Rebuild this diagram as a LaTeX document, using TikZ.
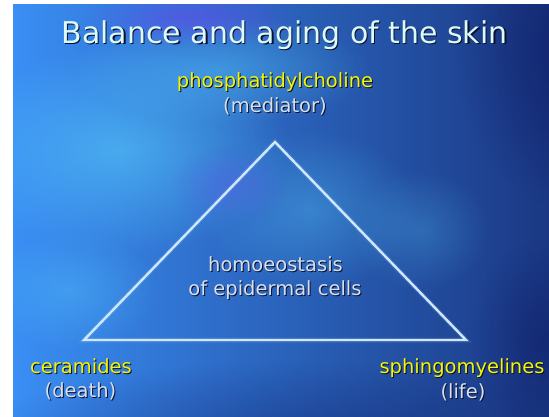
\documentclass[tikz,border=0pt]{standalone}
\usepackage{fontspec}
\setmainfont{DejaVu Sans}
\usetikzlibrary{fadings}
\tikzfading[name=softblob, inner color=transparent!0, outer color=transparent!100]
\definecolor{bgA}{HTML}{3A8EF4}
\definecolor{bgB}{HTML}{2A54DE}
\definecolor{bgC}{HTML}{122064}
\definecolor{cyanblob}{HTML}{56C8FA}
\definecolor{purpblob}{HTML}{6A48EE}
\definecolor{navyblob}{HTML}{0C1660}
\definecolor{titlec}{HTML}{DDFAFA}
\definecolor{yellowc}{HTML}{F5F500}
\definecolor{subc}{HTML}{D6E0EE}
\definecolor{linec}{HTML}{D0E8FF}
\definecolor{glowc}{HTML}{A8D4FF}
\definecolor{shadowc}{HTML}{0A1030}
\newcommand\shd[2]{\makebox[0pt][l]{\hspace{#1}\raisebox{-#1}{\textcolor{shadowc}{#2}}}#2}
\tikzset{
  blob/.style={fill=#1, path fading=softblob},
  titletext/.style={anchor=base, text=titlec, font=\fontsize{30}{36}\selectfont, inner sep=0pt},
  keytext/.style={anchor=base, text=yellowc, font=\fontsize{19.5}{24}\selectfont, inner sep=0pt},
  subtext/.style={anchor=base, text=subc, font=\fontsize{19.5}{24}\selectfont, inner sep=0pt},
  tri/.style={draw=linec, line width=2.4pt, line join=miter},
  triglow/.style={draw=glowc, line width=5pt, opacity=0.12, line join=miter}
}
\begin{document}
\begin{tikzpicture}[x=1pt,y=-1pt]
\useasboundingbox (0,0) rectangle (549,416);
\fill[white] (0,0) rectangle (549,416);
\begin{scope}
\clip (13,4) rectangle (549,416);
\shade[left color=bgA, middle color=bgB, right color=bgC] (13,4) rectangle (700,416);
\fill[blob=cyanblob, opacity=0.6] (120,150) ellipse (170 and 105);
\fill[blob=cyanblob, opacity=0.45] (220,70) ellipse (150 and 55);
\fill[blob=purpblob, opacity=0.55] (190,18) ellipse (110 and 30);
\fill[blob=cyanblob, opacity=0.35] (70,290) ellipse (90 and 60);
\fill[blob=cyanblob, opacity=0.35] (310,210) ellipse (110 and 80);
\fill[blob=cyanblob, opacity=0.25] (420,230) ellipse (70 and 60);
\fill[blob=navyblob, opacity=0.6] (575,50) ellipse (120 and 160);
\fill[blob=navyblob, opacity=0.4] (300,440) ellipse (330 and 80);
\fill[blob=navyblob, opacity=0.45] (540,340) ellipse (70 and 100);
\fill[blob=purpblob, opacity=0.3] (230,185) ellipse (60 and 40);
\end{scope}
% triangle
\coordinate (apex) at (275,142);
\coordinate (bl) at (84,340);
\coordinate (br) at (466,340);
\draw[triglow] (apex) -- (bl) -- (br) -- cycle;
\draw[tri] (apex) -- (bl) -- (br) -- cycle;
% texts
\node[titletext] (title) at (284.5,43) {\shd{1.5pt}{Balance and aging of the skin}};
\node[keytext] (pc) at (275,87) {\shd{1pt}{phosphatidylcholine}};
\node[subtext] (med) at (275,112) {\shd{1pt}{(mediator)}};
\node[subtext] (homeo) at (275.5,271) {\shd{1pt}{homoeostasis}};
\node[subtext] (epid) at (275,295) {\shd{1pt}{of epidermal cells}};
\node[keytext] (cer) at (81,373) {\shd{1pt}{ceramides}};
\node[subtext] (death) at (80.5,397) {\shd{1pt}{(death)}};
\node[keytext] (sph) at (462,373) {\shd{1pt}{sphingomyelines}};
\node[subtext] (life) at (463,398) {\shd{1pt}{(life)}};
\end{tikzpicture}
\end{document}
